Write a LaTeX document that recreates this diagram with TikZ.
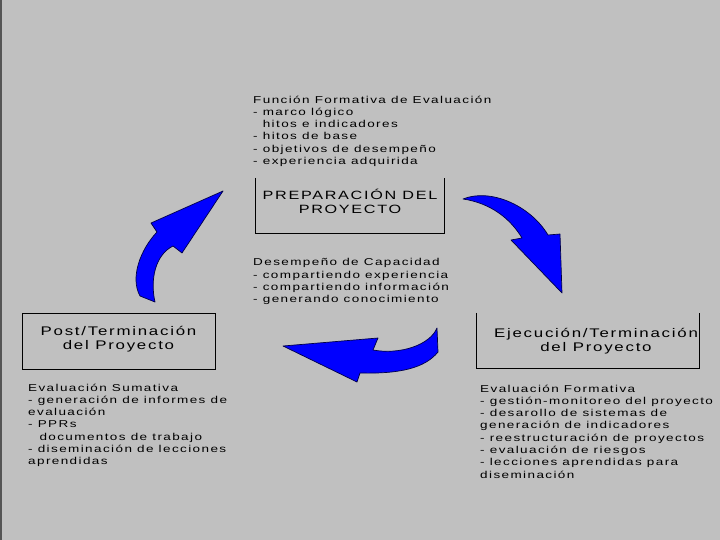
\documentclass[tikz,border=0pt]{standalone}
\usepackage{fontspec}
\setmainfont{Liberation Sans}[FakeStretch=1.35,LetterSpace=14]
\definecolor{bgc}{RGB}{192,192,192}
\definecolor{arrowblue}{RGB}{0,0,255}
\definecolor{arrowline}{RGB}{0,0,70}
\definecolor{edgec}{RGB}{85,85,85}
\tikzset{
  txt/.style={anchor=north west, inner sep=0pt, align=left, font=\fontsize{10}{12.3}\selectfont},
  ttl/.style={inner sep=0pt, align=center, font=\fontsize{12}{14}\selectfont},
  bigttl/.style={inner sep=0pt, align=center, font=\fontsize{12.5}{14}\selectfont},
  boxframe/.style={draw=black, line width=0.9pt},
  blockarrow/.style={fill=arrowblue, draw=arrowline, line width=0.7pt, line join=round},
  boxarea/.style={inner sep=0pt}
}
\begin{document}
\begin{tikzpicture}[x=1pt,y=-1pt]
\fill[bgc] (0,0) rectangle (720,540);
\useasboundingbox (0,0) rectangle (720,540);
\fill[edgec] (0,0) rectangle (1.6,540);

% top block
\node[txt] (fform) at (253,95.5) {Función Formativa de Evaluación\\
- marco lógico\\
\phantom{- }hitos e indicadores\\
- hitos de base\\
- objetivos de desempeño\\
- experiencia adquirida};

% preparation box
\node[boxarea, minimum width=189pt, minimum height=55pt] (prep) at (350,205.5) {};
\draw[boxframe] (prep.north west) |- (prep.south east) -- (prep.north east);
\node[ttl] (preptxt) at (350,201.5) {PREPARACIÓN DEL\\PROYECTO};

% middle block
\node[txt] (desemp) at (253,258.5) {Desempeño de Capacidad\\
- compartiendo experiencia\\
- compartiendo información\\
- generando conocimiento};

% post box
\node[boxarea, draw=black, line width=0.9pt, minimum width=193pt, minimum height=56pt] (post) at (118.5,341) {};
\node[bigttl] (posttxt) at (118.5,339.5) {Post/Terminación\\del Proyecto};

% ejecucion box
\node[boxarea, minimum width=222pt, minimum height=55pt] (ejec) at (588,340.5) {};
\draw[boxframe] (ejec.north west) |- (ejec.south east) -- (ejec.north east);
\node[bigttl] (ejectxt) at (596,341.5) {Ejecución/Terminación\\del Proyecto};

% summative block
\node[txt] (sumat) at (28,383.5) {Evaluación Sumativa\\
- generación de informes de\\
evaluación\\
- PPRs\\
\phantom{- }\,documentos de trabajo\\
- diseminación de lecciones\\
aprendidas};

% formative block
\node[txt] (format) at (480,384.5) {Evaluación Formativa\\
- gestión-monitoreo del proyecto\\
- desarollo de sistemas de\\
generación de indicadores\\
- reestructuración de proyectos\\
- evaluación de riesgos\\
- lecciones aprendidas para\\
diseminación};

% arrow left (up-right)
\draw[blockarrow] (223,191) -- (151,223) -- (157,232)
  .. controls (140,250) and (130,278) .. (140,296) -- (155,302)
  .. controls (150,280) and (155,255) .. (173,246) -- (182,253) -- cycle;

% arrow top right (down)
\draw[blockarrow] (463,199) .. controls (490,188) and (530,205) .. (548,235)
  -- (560,234) -- (562,293) -- (511,240) -- (522,238)
  .. controls (510,218) and (490,203) .. cycle;

% arrow bottom (left)
\draw[blockarrow] (283,346) -- (378,338) -- (373,350)
  .. controls (400,355) and (430,345) .. (437,328) -- (438,352)
  .. controls (425,368) and (400,374) .. (360,373) -- (357,382) -- cycle;
\end{tikzpicture}
\end{document}
